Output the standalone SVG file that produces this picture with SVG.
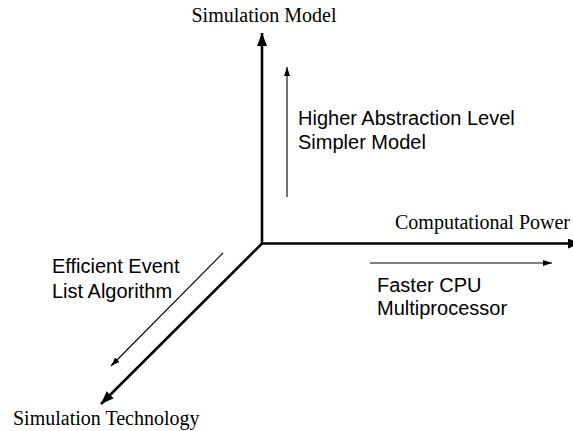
<svg xmlns="http://www.w3.org/2000/svg" width="573" height="431" viewBox="0 0 573 431">
<style>
.serif{font-family:"Liberation Serif","Times New Roman",serif;font-size:20px;fill:#000}
.sans{font-family:"Liberation Sans",Arial,sans-serif;font-size:20px;fill:#000}
.axis{stroke:#000;stroke-width:2.6;fill:none}
.thin{stroke:#000;stroke-width:1.1;fill:none}
</style>
<defs>
<marker id="big" markerUnits="userSpaceOnUse" viewBox="0 0 13 10" refX="13" refY="5" markerWidth="13" markerHeight="10" orient="auto">
<path d="M0,0 L13,5 L0,10 z" fill="#000"/>
</marker>
<marker id="small" markerUnits="userSpaceOnUse" viewBox="0 0 9 6" refX="9" refY="3" markerWidth="9" markerHeight="6" orient="auto">
<path d="M0,0 L9,3 L0,6 z" fill="#000"/>
</marker>
</defs>
<rect width="573" height="431" fill="#fff"/>
<g id="connectors">
<line class="axis" x1="262" y1="243.5" x2="262" y2="33" marker-end="url(#big)"/>
<line class="axis" x1="262" y1="243.5" x2="581" y2="243.5" marker-end="url(#big)"/>
<line class="axis" x1="262" y1="243.5" x2="101" y2="404" marker-end="url(#big)"/>
<line class="thin" x1="287" y1="197" x2="287" y2="67" marker-end="url(#small)"/>
<line class="thin" x1="370" y1="263" x2="552" y2="263" marker-end="url(#small)"/>
<line class="thin" x1="223" y1="253" x2="111" y2="366" marker-end="url(#small)"/>
</g>
<g id="simulation-model"><text class="serif" x="264" y="22" text-anchor="middle">Simulation Model</text></g>
<g id="computational-power"><text class="serif" x="570" y="229" text-anchor="end">Computational Power</text></g>
<g id="simulation-technology"><text class="serif" x="13" y="425">Simulation Technology</text></g>
<g id="abstraction-label"><text class="sans" x="298" y="125">Higher Abstraction Level</text><text class="sans" x="298" y="149">Simpler Model</text></g>
<g id="cpu-label"><text class="sans" x="377" y="292">Faster CPU</text><text class="sans" x="377" y="315">Multiprocessor</text></g>
<g id="algorithm-label"><text class="sans" x="52" y="273">Efficient Event</text><text class="sans" x="52" y="298">List Algorithm</text></g>
</svg>
